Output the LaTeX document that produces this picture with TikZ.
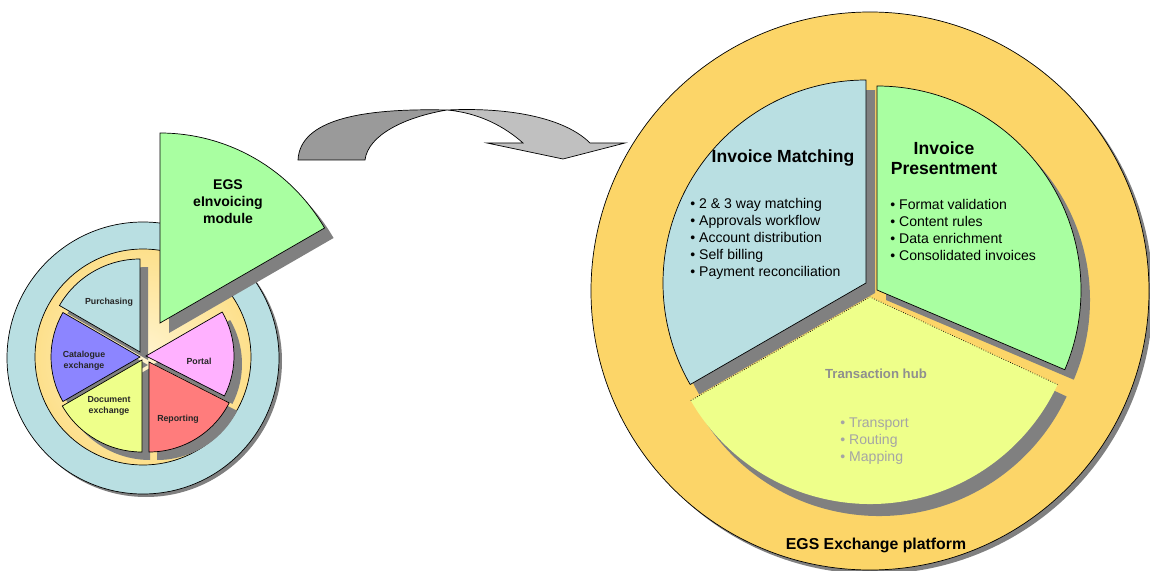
\documentclass[tikz,border=0pt]{standalone}
\usepackage{fontspec}
\setmainfont{Liberation Sans}
\definecolor{ringyellow}{HTML}{FCD568}
\definecolor{matchblue}{HTML}{B9DFE2}
\definecolor{presentgreen}{HTML}{A9FFA1}
\definecolor{hubyellow}{HTML}{EEFF8A}
\definecolor{catalogue}{HTML}{8C85FF}
\definecolor{reporting}{HTML}{FF7C7C}
\definecolor{portal}{HTML}{FFB1FF}
\definecolor{shadowgray}{HTML}{808080}
\definecolor{cream}{HTML}{FFF4CF}
\definecolor{arrowdark}{HTML}{9A9A9A}
\definecolor{arrowlight}{HTML}{C0C0C0}
\definecolor{hubgray}{HTML}{8F8F8F}
\pgfdeclareradialshading{ringglow}{\pgfpoint{0bp}{0bp}}{color(0bp)=(cream); color(38bp)=(ringyellow); color(50bp)=(ringyellow)}
\tikzset{
  shadow/.style={fill=shadowgray},
  slice/.style={draw=black, line width=0.4pt},
  tinylabel/.style={font=\fontsize{5}{6.2}\selectfont\bfseries, text=black!85, align=center},
  heading/.style={font=\fontsize{10}{11.7}\selectfont\bfseries, align=center},
  bullets/.style={font=\fontsize{8}{9.6}\selectfont, align=left, anchor=west, inner sep=0pt}
}
\begin{document}
\begin{tikzpicture}[x=0.02cm, y=0.02cm]
  \useasboundingbox (0,0) rectangle (1150,-571);
  % Curved arrow (two-tone ribbon)
  \filldraw[fill=arrowdark, line width=0.4pt] (298,-160) .. controls (300,-120) and (360,-108) .. (447,-110)
    .. controls (405,-117) and (368,-135) .. (365,-160) -- cycle;
  \filldraw[fill=arrowlight, line width=0.4pt] (447,-110) .. controls (510,-107) and (565,-118) .. (590,-143)
    -- (625,-143) -- (563,-159) -- (487,-143) -- (523,-143)
    .. controls (505,-127) and (480,-113) .. (447,-110) -- cycle;

  % Exchange platform (right)
  \fill[shadowgray] (874,-295) circle (279);
  \draw[slice, fill=ringyellow] (870,-291) circle (279);
  % Slice shadows
  \fill[shadow] (875,-293) -- +(90:203) arc[start angle=90, end angle=210, radius=203] -- cycle;
  \fill[shadow] (886,-300) -- +(-23:204) arc[start angle=-23, end angle=90, radius=204] -- cycle;
  \fill[shadow] (879,-309) -- +(210:207) arc[start angle=210, end angle=335, radius=207] -- cycle;
  % Slices
  \draw[slice, fill=matchblue] (866,-283) -- +(90:203) arc[start angle=90, end angle=210, radius=203] -- cycle;
  \draw[slice, fill=presentgreen] (877,-290) -- +(-23:204) arc[start angle=-23, end angle=90, radius=204] -- cycle;
  \fill[hubyellow] (870,-297) -- +(210:207) arc[start angle=210, end angle=335, radius=207] -- cycle;
  \draw[densely dotted, line width=0.4pt] (870,-297) +(210:207) -- (870,-297) -- +(335:207);
  % Texts
  \node[heading] (matching) at (783,-158) {Invoice Matching};
  \node[heading] (presentment) at (944,-158) {Invoice\\Presentment};
  \node[bullets] (matchlist) at (690,-239) {• 2 \& 3 way matching\\• Approvals workflow\\• Account distribution\\• Self billing\\• Payment reconciliation};
  \node[bullets] (presentlist) at (890,-230) {• Format validation\\• Content rules\\• Data enrichment\\• Consolidated invoices};
  \node[font=\fontsize{7.5}{9}\selectfont\bfseries, text=hubgray] (hub) at (876,-374) {Transaction hub};
  \node[bullets, text=hubgray!80] (hublist) at (840,-441) {• Transport\\• Routing\\• Mapping};
  \node[font=\fontsize{9}{11}\selectfont\bfseries] (platform) at (876,-545) {EGS Exchange platform};

  % Small pie (left)
  \fill[shadowgray] (146,-361) circle (136);
  \draw[slice, fill=matchblue] (143,-358) circle (136);
  \shade[shading=ringglow] (143,-357) circle (108);
  \draw[slice] (143,-357) circle (108);
  % Slice shadows
  \fill[shadow] (148,-360) -- +(90:93) arc[start angle=90, end angle=150, radius=93] -- cycle;
  \fill[shadow] (148,-365) -- +(150:89) arc[start angle=150, end angle=210, radius=89] -- cycle;
  \fill[shadow] (150,-368) -- +(210:92) arc[start angle=210, end angle=270, radius=92] -- cycle;
  \fill[shadow] (157,-370) -- +(270:90) arc[start angle=270, end angle=333, radius=90] -- cycle;
  \fill[shadow] (154,-364) -- +(-27:88) arc[start angle=-27, end angle=30, radius=88] -- cycle;
  % Slices
  \draw[slice, fill=matchblue] (140,-352) -- +(90:93) arc[start angle=90, end angle=150, radius=93] -- cycle;
  \draw[slice, fill=catalogue] (140,-357) -- +(150:89) arc[start angle=150, end angle=210, radius=89] -- cycle;
  \draw[slice, fill=hubyellow] (142,-360) -- +(210:92) arc[start angle=210, end angle=270, radius=92] -- cycle;
  \draw[slice, fill=reporting] (149,-362) -- +(270:90) arc[start angle=270, end angle=333, radius=90] -- cycle;
  \draw[slice, fill=portal] (146,-356) -- +(-27:88) arc[start angle=-27, end angle=30, radius=88] -- cycle;
  % eInvoicing module lifted out
  \fill[shadow] (169,-333) -- +(30:190) arc[start angle=30, end angle=90, radius=190] -- cycle;
  \draw[slice, fill=presentgreen] (160,-323) -- +(30:190) arc[start angle=30, end angle=90, radius=190] -- cycle;
  % Labels
  \node[tinylabel] (purchasing) at (109,-302) {Purchasing};
  \node[tinylabel] (catalog) at (84,-361) {Catalogue\\exchange};
  \node[tinylabel] (document) at (109,-406) {Document\\exchange};
  \node[tinylabel] (portallabel) at (199,-361) {Portal};
  \node[tinylabel] (reportlabel) at (178,-419) {Reporting};
  \node[font=\fontsize{8}{9.6}\selectfont\bfseries, align=center] (module) at (228,-202) {EGS\\eInvoicing\\module};
\end{tikzpicture}
\end{document}
